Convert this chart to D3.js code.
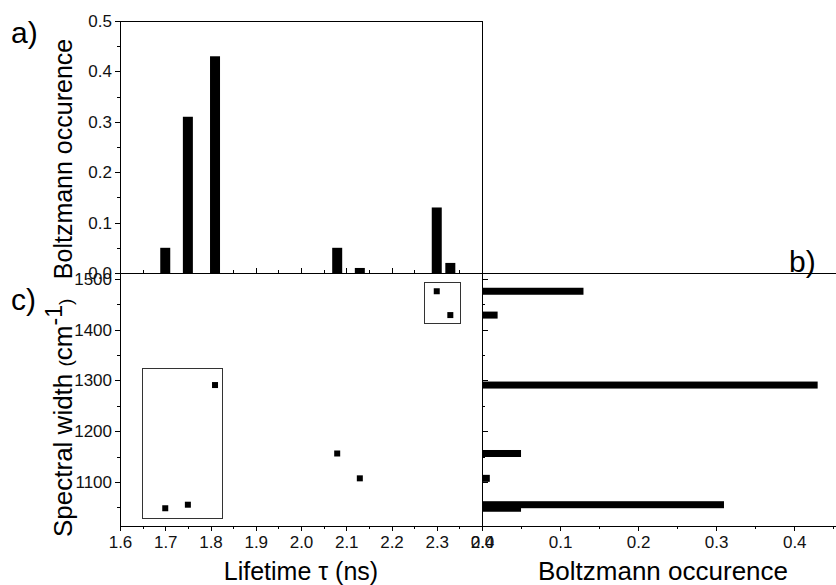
<!DOCTYPE html>
<html>
<head>
<meta charset="utf-8">
<script src="https://cdn.jsdelivr.net/npm/d3@7"></script>
<style>
  body { margin: 0; background: white; }
  svg { font-family: "Liberation Sans", Arial, sans-serif; }
  .axis path, .axis line { stroke: black; stroke-width: 1; shape-rendering: crispEdges; }
  .axis text { font-size: 17px; fill: #111; }
</style>
</head>
<body>
<svg width="836" height="585"></svg>
<script>
var svg = d3.select('svg');

// conformers: lifetime, spectral width, boltzmann occurence
const lifetimes = [1.70, 1.75, 1.81, 2.08, 2.13, 2.30, 2.33];
const widths = [1048, 1055, 1291, 1156, 1107, 1476, 1429];
const occurence = [0.05, 0.31, 0.43, 0.05, 0.01, 0.13, 0.02];

// the two grouping boxes drawn in panel c
const boxLifetime = [[1.65, 1.826], [2.272, 2.352]];
const boxWidth = [[1028, 1324], [1413, 1494]];

// tick values
const lifeTicks = [1.6, 1.7, 1.8, 1.9, 2.0, 2.1, 2.2, 2.3, 2.4];
const lifeMinor = [1.65, 1.75, 1.85, 1.95, 2.05, 2.15, 2.25, 2.35];
const occTicks = [0, 0.1, 0.2, 0.3, 0.4, 0.5];
const occMinor = [0.05, 0.15, 0.25, 0.35, 0.45];
const occTicksB = [0, 0.1, 0.2, 0.3, 0.4];
const widthTicks = [1100, 1200, 1300, 1400, 1500];
const widthMinor = [1050, 1150, 1250, 1350, 1450];

var data = lifetimes.map((t, i) => ({ tau: t, width: widths[i], occ: occurence[i] }));

// layout (pixel edges of the panels)
var xLeft = 120, xMid = 482, xRight = 836;
var yTop = 21, ySplit = 273, yBottom = 526;

var lifeScale = d3.scaleLinear().domain([1.6, 2.4]).range([xLeft, xMid]);
var occScale = d3.scaleLinear().domain([0, 0.5]).range([ySplit, yTop]);
var widthScale = d3.scaleLinear().domain([1013, 1512]).range([yBottom, ySplit]);
var occScaleB = d3.scaleLinear().domain([0, 0.4535]).range([xMid, xRight]);

var fmt = d3.format('.1f');

function addAxis(axis, tx, ty) {
    return svg.append('g')
        .attr('class', 'axis')
        .attr('transform', 'translate(' + tx + ',' + ty + ')')
        .call(axis);
}

// ---- panel a : occurence vs lifetime
addAxis(d3.axisLeft(occScale).tickValues(occTicks).tickSize(5).tickSizeOuter(0).tickPadding(3).tickFormat(fmt), xLeft, 0);
addAxis(d3.axisLeft(occScale).tickValues(occMinor).tickSize(3).tickSizeOuter(0).tickFormat(''), xLeft, 0);
addAxis(d3.axisTop(lifeScale).tickValues(lifeTicks).tickSize(5).tickSizeOuter(0).tickFormat(''), 0, ySplit);
addAxis(d3.axisTop(lifeScale).tickValues(lifeMinor).tickSize(3).tickSizeOuter(0).tickFormat(''), 0, ySplit);

svg.selectAll('rect.bar-a')
    .data(data)
    .enter()
    .append('rect')
    .attr('class', 'bar-a')
    .attr('x', d => lifeScale(d.tau) - 5)
    .attr('y', d => occScale(d.occ))
    .attr('width', 10)
    .attr('height', d => ySplit - occScale(d.occ))
    .style('fill', 'black');

// ---- panel c : spectral width vs lifetime
addAxis(d3.axisLeft(widthScale).tickValues(widthTicks).tickSize(5).tickSizeOuter(0).tickPadding(3).tickFormat(d3.format('d')), xLeft, 0);
addAxis(d3.axisLeft(widthScale).tickValues(widthMinor).tickSize(3).tickSizeOuter(0).tickFormat(''), xLeft, 0);
addAxis(d3.axisBottom(lifeScale).tickValues(lifeTicks).tickSize(5).tickSizeOuter(0).tickPadding(5).tickFormat(fmt), 0, yBottom);
addAxis(d3.axisBottom(lifeScale).tickValues(lifeMinor).tickSize(3).tickSizeOuter(0).tickFormat(''), 0, yBottom);

svg.selectAll('rect.box')
    .data(boxLifetime)
    .enter()
    .append('rect')
    .attr('class', 'box')
    .attr('x', (d, i) => lifeScale(d[0]))
    .attr('y', (d, i) => widthScale(boxWidth[i][1]))
    .attr('width', (d, i) => lifeScale(d[1]) - lifeScale(d[0]))
    .attr('height', (d, i) => widthScale(boxWidth[i][0]) - widthScale(boxWidth[i][1]))
    .style('fill', 'none')
    .style('stroke', '#333')
    .style('stroke-width', 1)
    .style('shape-rendering', 'crispEdges');

svg.selectAll('rect.point')
    .data(data)
    .enter()
    .append('rect')
    .attr('class', 'point')
    .attr('x', d => lifeScale(d.tau) - 3)
    .attr('y', d => widthScale(d.width) - 3)
    .attr('width', 6)
    .attr('height', 6)
    .style('fill', 'black');

// ---- panel b : occurence vs spectral width
addAxis(d3.axisRight(widthScale).tickValues(widthTicks).tickSize(6).tickSizeOuter(0).tickFormat(''), xMid, 0);
addAxis(d3.axisRight(widthScale).tickValues(widthMinor).tickSize(3).tickSizeOuter(0).tickFormat(''), xMid, 0);
addAxis(d3.axisBottom(occScaleB).tickValues(occTicksB).tickSize(5).tickSizeOuter(0).tickPadding(5).tickFormat(fmt), 0, yBottom);
addAxis(d3.axisBottom(occScaleB).tickValues(occMinor).tickSize(3).tickSizeOuter(0).tickFormat(''), 0, yBottom);

svg.selectAll('rect.bar-b')
    .data(data)
    .enter()
    .append('rect')
    .attr('class', 'bar-b')
    .attr('x', xMid)
    .attr('y', d => widthScale(d.width) - 3.5)
    .attr('width', d => occScaleB(d.occ) - xMid)
    .attr('height', 7)
    .style('fill', 'black');

// frame lines
var frame = [
    [xLeft, yTop, xMid, yTop],
    [xMid, yTop, xMid, yBottom],
    [xLeft, ySplit, xRight, ySplit]
];
svg.selectAll('line.frame')
    .data(frame)
    .enter()
    .append('line')
    .attr('class', 'frame')
    .attr('x1', d => d[0]).attr('y1', d => d[1])
    .attr('x2', d => d[2]).attr('y2', d => d[3])
    .style('stroke', 'black')
    .style('shape-rendering', 'crispEdges');

// labels
svg.append('text')
    .attr('x', 11).attr('y', 43)
    .style('font-size', '30px')
    .text('a)');

svg.append('text')
    .attr('x', 789).attr('y', 272)
    .style('font-size', '30px')
    .text('b)');

svg.append('text')
    .attr('x', 11).attr('y', 310)
    .style('font-size', '30px')
    .text('c)');

svg.append('text')
    .attr('transform', 'translate(72, 159)rotate(-90)')
    .attr('text-anchor', 'middle')
    .style('font-size', '25px')
    .text('Boltzmann occurence');

var yLabel = svg.append('text')
    .attr('transform', 'translate(72, 537)rotate(-90)')
    .style('font-size', '26px');
yLabel.append('tspan').text('Spectral width ');
yLabel.append('tspan').style('font-size', '19px').text('(');
yLabel.append('tspan').text('cm');
yLabel.append('tspan').attr('dy', -10).style('font-size', '23px').text('-1');
yLabel.append('tspan').attr('dy', 10).style('font-size', '19px').text(')');

svg.append('text')
    .attr('x', 301).attr('y', 580)
    .attr('text-anchor', 'middle')
    .style('font-size', '25px')
    .text('Lifetime \u03c4 (ns)');

svg.append('text')
    .attr('x', 663).attr('y', 580)
    .attr('text-anchor', 'middle')
    .style('font-size', '26px')
    .text('Boltzmann occurence');
</script>
</body>
</html>
